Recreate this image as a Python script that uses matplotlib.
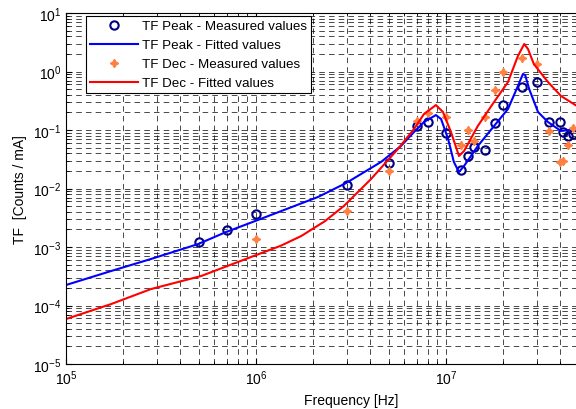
import matplotlib
matplotlib.use("Agg")
import matplotlib.pyplot as plt

plt.rcParams['font.family'] = ['Liberation Sans', 'DejaVu Sans']
plt.rcParams['mathtext.fontset'] = 'custom'
plt.rcParams['mathtext.rm'] = 'Liberation Sans'
plt.rcParams['lines.scale_dashes'] = False

# measured points
peak_freq = [5e5, 7e5, 1e6, 3e6, 5e6, 7e6, 8e6, 1e7, 1.2e7, 1.3e7, 1.4e7,
             1.6e7, 1.8e7, 2e7, 2.5e7, 3e7, 3.5e7, 4e7, 4.13e7, 4.4e7, 4.66e7]
peak_meas = [1.22e-3, 1.95e-3, 3.66e-3, 1.15e-2, 2.73e-2, 0.117, 0.137, 0.089,
             0.0207, 0.036, 0.051, 0.0455, 0.132, 0.267, 0.543, 0.661, 0.137,
             0.137, 0.0925, 0.0795, 0.086]

dec_freq = [1e6, 3e6, 5e6, 7e6, 8e6, 1e7, 1.2e7, 1.3e7, 1.4e7, 1.6e7, 1.8e7,
            2e7, 2.5e7, 3e7, 3.5e7, 4e7, 4.13e7, 4.4e7, 4.66e7]
dec_meas = [1.37e-3, 4.1e-3, 0.02, 0.143, 0.195, 0.167, 0.055, 0.1, 0.065,
            0.167, 0.48, 0.98, 1.7, 1.34, 0.096, 0.028, 0.03, 0.055, 0.11]

# fitted curves
peak_fit_freq = [1.0e5, 1.73e5, 2.8e5, 4.95e5, 6.95e5, 9.9e5, 2.12e6, 2.98e6,
                 4.55e6, 5.79e6, 6.79e6, 7.66e6, 8.85e6, 9.42e6, 1.026e7, 1.10e7,
                 1.17e7, 1.245e7, 1.47e7, 1.79e7, 2.12e7, 2.39e7, 2.54e7,
                 2.61e7, 2.74e7, 3.05e7, 3.44e7, 4.03e7, 4.89e7]
peak_fit = [2.24e-4, 3.89e-4, 6.24e-4, 1.12e-3, 1.80e-3, 2.78e-3, 7.16e-3,
            1.24e-2, 2.84e-2, 5.32e-2, 9.25e-2, 0.137, 0.180, 0.154, 0.0702,
            0.0284, 0.0191, 0.0243, 0.0532, 0.117, 0.229, 0.565, 0.906, 0.871,
            0.502, 0.203, 0.137, 0.0962, 0.104]

dec_fit_freq = [1e5, 1.73e5, 2.8e5, 5.14e5, 9.42e5, 1.35e6, 1.73e6, 2.30e6,
                2.90e6, 4.03e6, 5.58e6, 6.79e6, 7.66e6, 8.85e6, 9.64e6, 1.062e7,
                1.17e7, 1.245e7, 1.47e7, 1.79e7, 2.12e7, 2.39e7, 2.58e7, 2.70e7,
                2.90e7, 3.44e7, 4.03e7, 4.89e7]
dec_fit = [5.87e-5, 1.06e-4, 1.91e-4, 3.19e-4, 6.75e-4, 1.05e-3, 1.54e-3,
           2.75e-3, 5.02e-3, 1.45e-2, 4.73e-2, 0.104, 0.188, 0.267, 0.203,
           0.0925, 0.036, 0.0438, 0.117, 0.301, 0.662, 1.84, 2.95, 2.43, 1.34,
           0.662, 0.381, 0.257]

x_ticks = [1e5, 1e6, 1e7]
y_ticks = [1e-5, 1e-4, 1e-3, 1e-2, 1e-1, 1e0, 1e1]

fig = plt.figure(figsize=(5.76, 4.10), dpi=100)
ax = fig.add_axes([66 / 576, 45 / 410, 570 / 576, 351 / 410])

ax.plot(peak_freq, peak_meas, 'o', mfc='none', mec='#000080', mew=1.5, ms=6,
        label='TF Peak - Measured values')
ax.plot(peak_fit_freq, peak_fit, '-', color='#0000FF', lw=1.5,
        label='TF Peak - Fitted values')
ax.plot(dec_freq, dec_meas, ls='none', marker=(4, 1, 0), color='#FF8040', ms=6,
        label='TF Dec - Measured values')
ax.plot(dec_fit_freq, dec_fit, '-', color='#FF0000', lw=1.5,
        label='TF Dec - Fitted values')

ax.set_xscale('log')
ax.set_yscale('log')
ax.set_xlim(1e5, 1e8)
ax.set_ylim(1e-5, 1e1)
ax.set_xticks(x_ticks)
ax.set_yticks(y_ticks)

ax.grid(True, which='both', color='k', lw=0.5, ls=(0, (4, 3)))
ax.tick_params(which='both', direction='in', top=True, right=True, labelsize=10)
ax.tick_params(which='major', length=4)
ax.tick_params(which='minor', length=2.5)
for s in ax.spines.values():
    s.set_linewidth(0.8)

ax.set_xlabel('Frequency [Hz]', fontsize=10)
ax.set_ylabel('TF  [Counts / mA]', fontsize=10)

leg = ax.legend(loc='upper left', bbox_to_anchor=(20 / 570, 1 - 3 / 351),
                borderaxespad=0, fancybox=False, framealpha=1, edgecolor='k',
                fontsize=9.6, handlelength=3.6, handletextpad=0.3, borderpad=0.3,
                labelspacing=0.5)
leg.get_frame().set_linewidth(0.8)

fig.savefig('out.png', dpi=100)
